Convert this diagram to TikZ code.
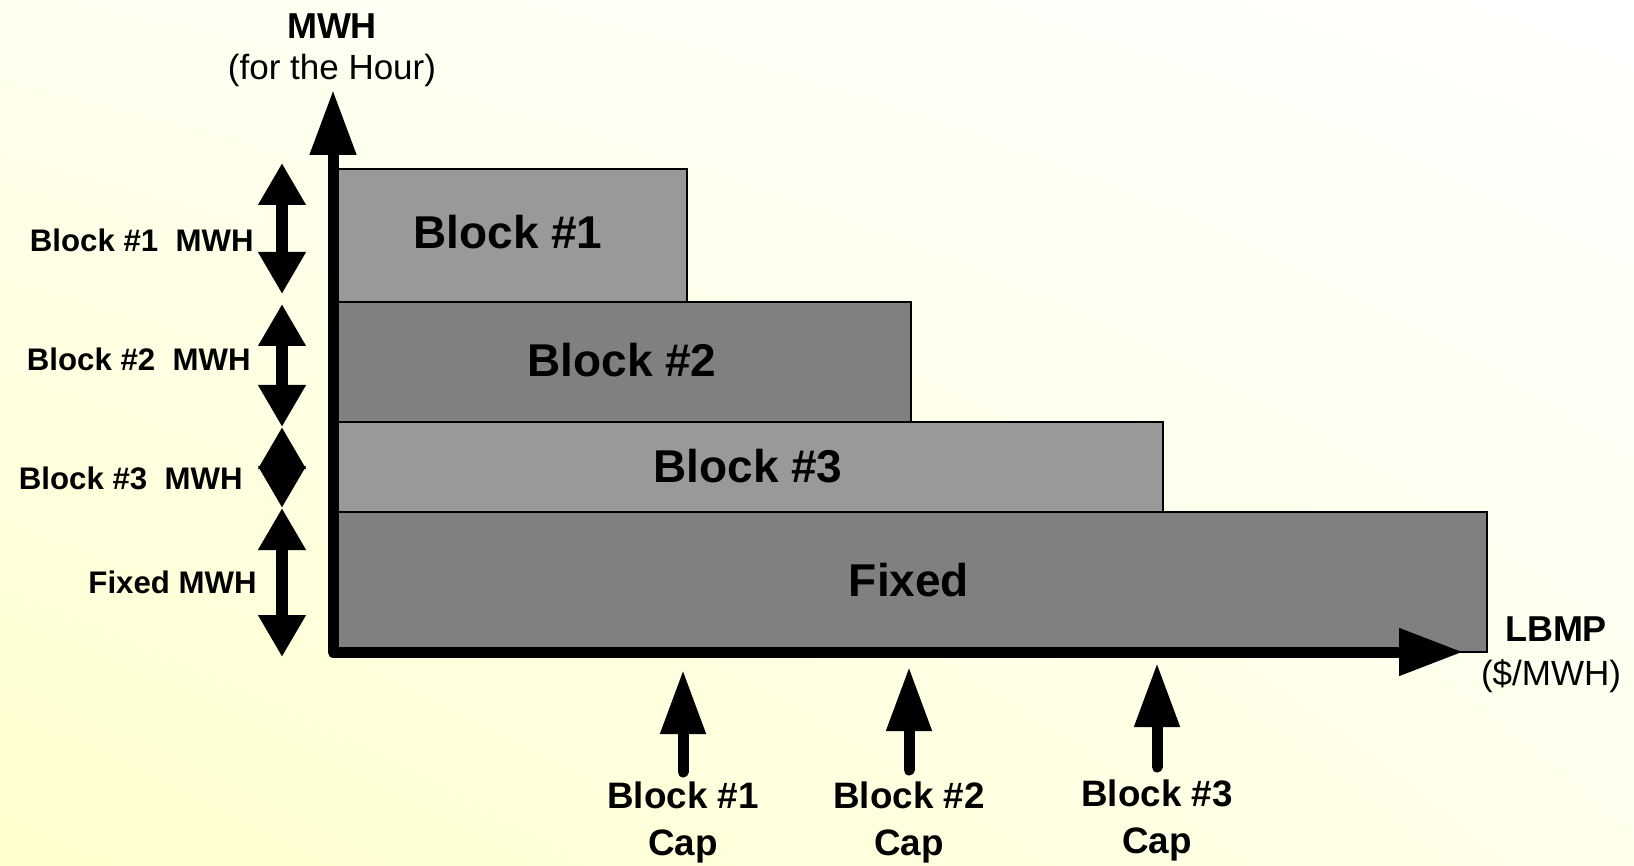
\documentclass[tikz,border=0pt]{standalone}
\usepackage{fontspec}
\setmainfont{Liberation Sans}
\usetikzlibrary{arrows.meta,shadings}
\definecolor{bgLL}{RGB}{255,255,204}
\definecolor{bgUR}{RGB}{255,255,254}
\definecolor{bgUL}{RGB}{255,255,240}
\definecolor{bgLR}{RGB}{255,255,236}
\definecolor{lightblk}{RGB}{153,153,153}
\definecolor{darkblk}{RGB}{128,128,128}
\tikzset{
  blockrect/.style={draw=black, line width=1pt},
  blocktext/.style={font=\fontsize{23pt}{27pt}\selectfont\bfseries, anchor=base, inner sep=0pt},
  sidelabel/.style={font=\fontsize{15.6pt}{19pt}\selectfont\bfseries, anchor=base east, inner sep=0pt},
  bigbold/.style={font=\fontsize{18pt}{21pt}\selectfont\bfseries, anchor=base, inner sep=0pt},
  capbold/.style={font=\fontsize{18.4pt}{21pt}\selectfont\bfseries, anchor=base, inner sep=0pt},
  bigreg/.style={font=\fontsize{17.5pt}{21pt}\selectfont, anchor=base, inner sep=0pt},
  axisline/.style={line width=5.5pt, line join=round,
    {Triangle[length=32.5pt,width=22pt]}-{Triangle[length=32pt,width=22.5pt]}},
  dblarrow/.style={line width=6pt,
    {Triangle[length=21pt,width=22.5pt]}-{Triangle[length=21pt,width=22.5pt]}},
  caparrow/.style={line width=5.5pt, line cap=round, -{Triangle[length=32pt,width=21.5pt]}}
}
\begin{document}
\begin{tikzpicture}[x=0.5pt,y=-0.5pt]
\useasboundingbox (0,0) rectangle (1634,866);
\shade[lower left=bgLL, upper right=bgUR, upper left=bgUL, lower right=bgLR] (0,0) rectangle (1634,866);

% blocks
\draw[blockrect, fill=lightblk] (333,169) rectangle (687,302);
\draw[blockrect, fill=darkblk] (333,302) rectangle (911,422);
\draw[blockrect, fill=lightblk] (333,422) rectangle (1163,512);
\draw[blockrect, fill=darkblk] (333,512) rectangle (1487,652);

\node[blocktext] (t1) at (508,249) {Block \#1};
\node[blocktext] (t2) at (622,377) {Block \#2};
\node[blocktext] (t3) at (748,482) {Block \#3};
\node[blocktext] (tf) at (909,596) {Fixed};

% axes
\coordinate (ytop) at (333,90);
\coordinate (origin) at (333,652);
\coordinate (xend) at (1463,652);
\draw[axisline] (ytop) -- (origin) -- (xend);

\node[bigbold] (ylab) at (332,39) {MWH};
\node[bigreg] (ylab2) at (332,80) {(for the Hour)};
\node[bigbold] (xlab) at (1556,641) {LBMP};
\node[bigreg] (xlab2) at (1551,685) {(\$/MWH)};

% left double arrows
\coordinate (a1t) at (282,163);
\coordinate (a1b) at (282,294);
\coordinate (a2t) at (282,304);
\coordinate (a2b) at (282,427);
\coordinate (a3t) at (282,427);
\coordinate (a3b) at (282,508);
\coordinate (a4t) at (282,508);
\coordinate (a4b) at (282,657);
\draw[dblarrow] (a1t) -- (a1b);
\draw[dblarrow] (a2t) -- (a2b);
\draw[dblarrow] (a3t) -- (a3b);
\draw[dblarrow] (a4t) -- (a4b);

\node[sidelabel] (s1) at (254,252) {Block \#1~~MWH};
\node[sidelabel] (s2) at (251,371) {Block \#2~~MWH};
\node[sidelabel] (s3) at (243,489) {Block \#3~~MWH};
\node[sidelabel] (s4) at (257,593) {Fixed MWH};

% cap arrows
\coordinate (c1b) at (683,772);
\coordinate (c1t) at (683,670);
\coordinate (c2b) at (909,770);
\coordinate (c2t) at (909,667);
\coordinate (c3b) at (1157,767);
\coordinate (c3t) at (1157,663);
\draw[caparrow] (c1b) -- (c1t);
\draw[caparrow] (c2b) -- (c2t);
\draw[caparrow] (c3b) -- (c3t);

\node[capbold] (cap1a) at (683,808) {Block \#1};
\node[capbold] (cap1b) at (683,855) {Cap};
\node[capbold] (cap2a) at (909,808) {Block \#2};
\node[capbold] (cap2b) at (909,855) {Cap};
\node[capbold] (cap3a) at (1157,806) {Block \#3};
\node[capbold] (cap3b) at (1157,853) {Cap};
\end{tikzpicture}
\end{document}
